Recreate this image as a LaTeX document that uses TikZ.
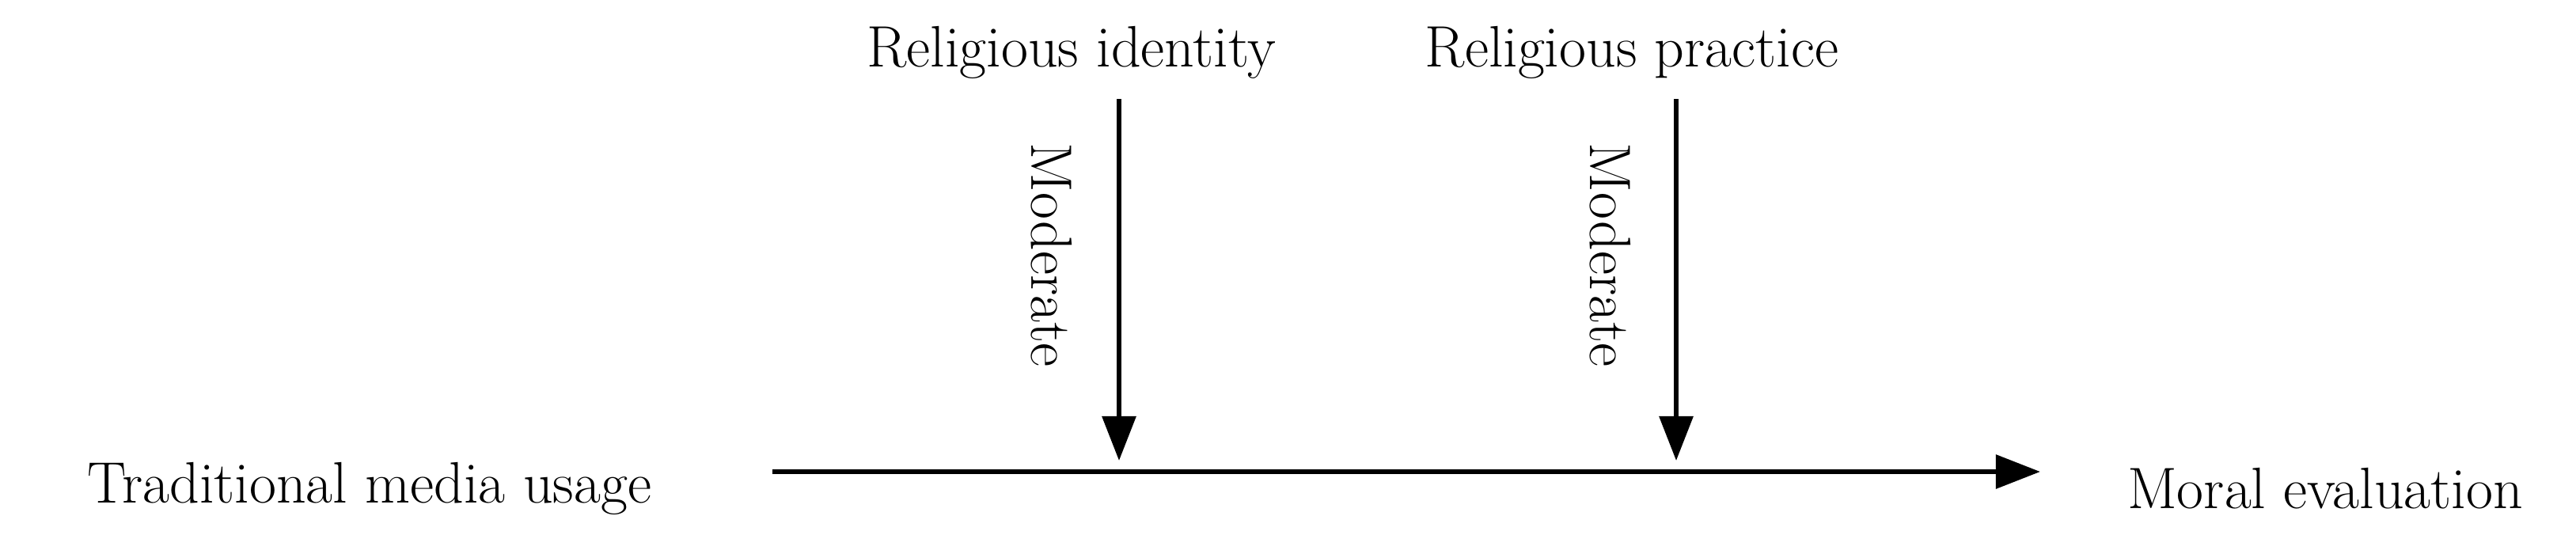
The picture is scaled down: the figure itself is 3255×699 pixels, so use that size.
\documentclass[tikz,border=0pt]{standalone}
\usetikzlibrary{arrows.meta}
\tikzset{
  lbl/.style={inner sep=0pt, font=\fontsize{21}{25}\selectfont},
  arr/.style={line width=1.7pt, -{Triangle[length=16pt,width=12pt]}}
}
\begin{document}
\begin{tikzpicture}[x=0.01cm,y=-0.01cm]
\useasboundingbox (0,0) rectangle (3255,699);
\node[lbl] (ri) at (1354,66) {Religious identity};
\node[lbl] (rp) at (2062,66) {Religious practice};
\node[lbl] (tm) at (467,617) {Traditional media usage};
\node[lbl] (me) at (2938,617) {Moral evaluation};
\coordinate (a1s) at (1414,125);
\coordinate (a1e) at (1414,582);
\coordinate (a2s) at (2118,125);
\coordinate (a2e) at (2118,582);
\coordinate (hs) at (976,596);
\coordinate (he) at (2578,596);
\draw[arr] (a1s) -- (a1e);
\draw[arr] (a2s) -- (a2e);
\draw[arr] (hs) -- (he);
\node[lbl, rotate=-90] (m1) at (1329,322) {Moderate};
\node[lbl, rotate=-90] (m2) at (2035,322) {Moderate};
\end{tikzpicture}
\end{document}
